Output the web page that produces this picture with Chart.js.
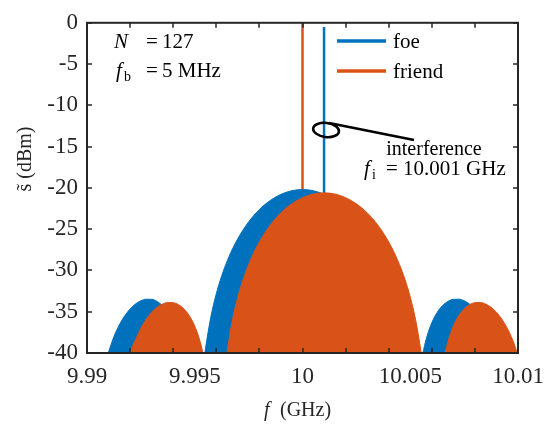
<!DOCTYPE html>
<html>
<head>
<meta charset="utf-8">
<script src="https://cdn.jsdelivr.net/npm/chart.js@4.4.1/dist/chart.umd.min.js"></script>
<style>
  body { margin: 0; background: #fff; }
  #wrap { width: 557px; height: 430px; position: relative; }
</style>
</head>
<body>
<div id="wrap"><canvas id="spectrum"></canvas></div>
<script>
// frequency (GHz) and level (dBm), null splits the lobes
const foeFreq = [
  9.990985, 9.99125, 9.9915, 9.99175, 9.992, 9.99225, 9.9925, 9.99275, 9.993, 9.99325, 9.9935, 9.99375, 9.994, 9.99425, 9.994415,
  9.9945,
  9.995468, 9.9955, 9.99575, 9.996, 9.99625, 9.9965, 9.99675, 9.997, 9.9975, 9.998, 9.9985, 9.999, 9.9995, 10,
  10.0005, 10.001, 10.0015, 10.002, 10.0025, 10.003, 10.00325, 10.0035, 10.00375, 10.004, 10.00425, 10.0045, 10.004532,
  10.005,
  10.005585, 10.00575, 10.006, 10.00625, 10.0065, 10.00675, 10.007, 10.00725, 10.0075, 10.00775, 10.008, 10.00825, 10.0085, 10.00875, 10.009015
];
const foeLevel = [
  -40, -38.01, -36.59, -35.50, -34.66, -34.06, -33.67, -33.48, -33.50, -33.75, -34.26, -35.09, -36.34, -38.22, -40,
  null,
  -40, -39.43, -35.59, -32.82, -30.65, -28.89, -27.40, -26.14, -24.12, -22.62, -21.53, -20.78, -20.34, -20.2,
  -20.34, -20.78, -21.53, -22.62, -24.12, -26.14, -27.40, -28.89, -30.65, -32.82, -35.59, -39.43, -40,
  null,
  -40, -38.22, -36.34, -35.09, -34.26, -33.75, -33.50, -33.48, -33.67, -34.06, -34.66, -35.50, -36.59, -38.01, -40
];
const friendFreq = [
  9.991965, 9.99225, 9.9925, 9.99275, 9.993, 9.99325, 9.9935, 9.99375, 9.994, 9.99425, 9.9945, 9.99475, 9.995, 9.99525, 9.99538,
  9.9954,
  9.99649, 9.9965, 9.99675, 9.997, 9.99725, 9.9975, 9.99775, 9.998, 9.9985, 9.999, 9.9995, 10, 10.0005, 10.001,
  10.0015, 10.002, 10.0025, 10.003, 10.0035, 10.004, 10.00425, 10.0045, 10.00475, 10.005, 10.00525, 10.0055, 10.00551,
  10.006,
  10.00662, 10.00675, 10.007, 10.00725, 10.0075, 10.00775, 10.008, 10.00825, 10.0085, 10.00875, 10.009, 10.00925, 10.0095, 10.00975, 10.009965
];
const friendLevel = [
  -40, -38.41, -36.99, -35.90, -35.06, -34.46, -34.07, -33.88, -33.90, -34.15, -34.66, -35.49, -36.74, -38.62, -40,
  null,
  -40, -39.83, -35.99, -33.22, -31.05, -29.29, -27.80, -26.54, -24.52, -23.02, -21.93, -21.18, -20.74, -20.6,
  -20.74, -21.18, -21.93, -23.02, -24.52, -26.54, -27.80, -29.29, -31.05, -33.22, -35.99, -39.83, -40,
  null,
  -40, -38.62, -36.74, -35.49, -34.66, -34.15, -33.90, -33.88, -34.07, -34.46, -35.06, -35.90, -36.99, -38.41, -40
];
// vertical stems: [frequency, top level]
const friendStem = [10.000, 0];
const foeStem = [10.001, -0.5];

const seriesNames = ['foe', 'friend'];
const xTickValues = [9.99, 9.995, 10, 10.005, 10.01];
const xTickLabels = ['9.99', '9.995', '10', '10.005', '10.01'];
const xMarkValues = [9.99, 9.992, 9.994, 9.996, 9.998, 10, 10.002, 10.004, 10.006, 10.008, 10.01];
const yTickValues = [0, -5, -10, -15, -20, -25, -30, -35, -40];

const BLUE = '#0072BD';
const ORANGE = '#D95319';
const INK = '#262626';
const SERIF = '"Liberation Serif"';

const pts = (fs, ls) => fs.map((f, i) => ({x: f, y: ls[i]}));

const lobe = (label, fs, ls, color, order) => ({
  label: label,
  data: pts(fs, ls),
  borderColor: color,
  backgroundColor: color,
  borderWidth: 1,
  fill: {value: -40},
  pointRadius: 0,
  cubicInterpolationMode: 'monotone',
  spanGaps: false,
  order: order
});

const stem = (s, color, order) => ({
  data: [{x: s[0], y: -40}, {x: s[0], y: s[1]}],
  borderColor: color,
  borderWidth: 2.5,
  pointRadius: 0,
  fill: false,
  order: order
});

const decorations = {
  id: 'decorations',
  afterDraw(chart) {
    const c = chart.ctx;
    const xs = chart.scales.x, ys = chart.scales.y;
    const a = chart.chartArea;
    c.save();

    // box and inward ticks
    c.strokeStyle = INK;
    c.lineWidth = 2;
    c.strokeRect(a.left, a.top, a.right - a.left, a.bottom - a.top);
    c.lineWidth = 1.5;
    c.beginPath();
    xMarkValues.forEach(v => {
      const px = Math.round(xs.getPixelForValue(v));
      c.moveTo(px, a.bottom); c.lineTo(px, a.bottom - 5);
      c.moveTo(px, a.top); c.lineTo(px, a.top + 5);
    });
    yTickValues.forEach(v => {
      const py = Math.round(ys.getPixelForValue(v));
      c.moveTo(a.left, py); c.lineTo(a.left + 5, py);
      c.moveTo(a.right, py); c.lineTo(a.right - 5, py);
    });
    c.stroke();

    // legend
    const colors = [BLUE, ORANGE];
    c.lineWidth = 3.5;
    c.font = '21px ' + SERIF;
    c.textBaseline = 'middle';
    c.textAlign = 'left';
    seriesNames.forEach((name, i) => {
      const y = 41 + i * 30;
      c.strokeStyle = colors[i];
      c.beginPath(); c.moveTo(337, y); c.lineTo(386, y); c.stroke();
      c.fillStyle = '#000';
      c.fillText(name, 393, y + 1);
    });

    // annotation text
    c.textBaseline = 'alphabetic';
    c.fillStyle = '#000';
    c.font = 'italic 21px ' + SERIF;
    c.fillText('N', 114, 48);
    c.fillText('f', 116, 77);
    c.font = '21px ' + SERIF;
    c.fillText('=', 146, 48);
    c.fillText('127', 162, 48);
    c.fillText('=', 146, 77);
    c.fillText('5 MHz', 162, 77);
    c.font = '14px ' + SERIF;
    c.fillText('b', 124, 81);

    c.font = '20px ' + SERIF;
    c.textAlign = 'center';
    c.fillText('interference', 434, 155);
    c.textAlign = 'left';
    c.font = 'italic 21px ' + SERIF;
    c.fillText('f', 364, 175);
    c.font = '14px ' + SERIF;
    c.fillText('i', 372, 179);
    c.font = '21px ' + SERIF;
    c.fillText('= 10.001 GHz', 386, 175);

    // ellipse around the foe stem and pointer
    c.strokeStyle = '#000';
    c.lineWidth = 2.5;
    c.beginPath();
    c.ellipse(xs.getPixelForValue(foeStem[0]) + 2, 130, 13, 7, 0.12, 0, Math.PI * 2);
    c.stroke();
    c.beginPath();
    c.moveTo(329, 123);
    c.lineTo(414, 140);
    c.stroke();

    // axis titles
    c.fillStyle = INK;
    c.font = 'italic 20px ' + SERIF;
    c.fillText('f', 264, 416);
    c.font = '20px ' + SERIF;
    c.fillText('(GHz)', 280, 416);

    c.translate(31, 159);
    c.rotate(-Math.PI / 2);
    c.textAlign = 'center';
    c.font = '20px ' + SERIF;
    c.fillText('s\u0303 (dBm)', 0, 0);
    c.restore();
  }
};

const draw = () => new Chart(document.getElementById('spectrum'), {
  type: 'line',
  data: {
    datasets: [
      lobe(seriesNames[1], friendFreq, friendLevel, ORANGE, 1),
      lobe(seriesNames[0], foeFreq, foeLevel, BLUE, 2),
      stem(foeStem, BLUE, 3),
      stem(friendStem, ORANGE, 4)
    ]
  },
  options: {
    responsive: true,
    maintainAspectRatio: false,
    animation: false,
    layout: { padding: { top: 10, right: 39, left: 0, bottom: 0 } },
    plugins: {
      legend: { display: false },
      tooltip: { enabled: false }
    },
    scales: {
      x: {
        type: 'linear',
        min: 9.99,
        max: 10.01,
        grid: { display: false, drawTicks: false },
        border: { display: false },
        afterBuildTicks: s => { s.ticks = xTickValues.map(v => ({value: v})); },
        afterFit: s => { s.height = 77; },
        ticks: {
          autoSkip: false,
          maxRotation: 0,
          padding: 10,
          color: INK,
          font: { family: SERIF, size: 23 },
          callback: (v, i) => xTickLabels[i]
        }
      },
      y: {
        min: -40,
        max: 0,
        grid: { display: false, drawTicks: false },
        border: { display: false },
        afterBuildTicks: s => { s.ticks = yTickValues.map(v => ({value: v})); },
        afterFit: s => { s.width = 87; },
        ticks: {
          padding: 9,
          color: INK,
          font: { family: SERIF, size: 23 },
          callback: v => String(v)
        }
      }
    }
  },
  plugins: [decorations]
});

Promise.all([
  document.fonts.load('23px "Liberation Serif"'),
  document.fonts.load('italic 21px "Liberation Serif"')
]).then(draw, draw);
</script>
</body>
</html>
